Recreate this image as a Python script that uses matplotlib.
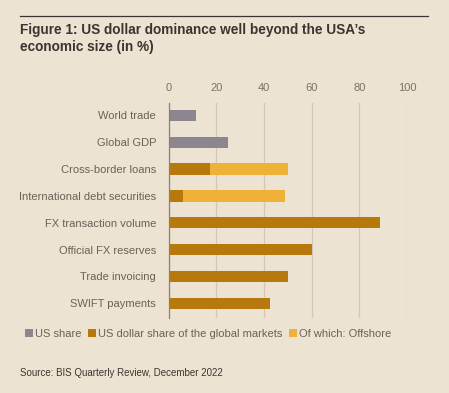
import numpy as np
import matplotlib.pyplot as plt

# Daten
categories = ['World trade', 'Global GDP', 'Cross-border loans', 'International debt securities',
              'FX transaction volume', 'Official FX reserves', 'Trade invoicing', 'SWIFT payments']
us_share = [11.5, 25, 0, 0, 0, 0, 0, 0]
usd_share = [0, 0, 17.5, 6, 88.5, 60, 50, 42.5]
offshore = [0, 0, 32.5, 43, 0, 0, 0, 0]
ticks = [0, 20, 40, 60, 80, 100]

bg = '#ece3d2'
c_us = '#8b8690'
c_usd = '#b7790b'
c_off = '#efb138'
txt = '#6a625a'

plt.rcParams['font.family'] = ['Liberation Sans', 'DejaVu Sans']

fig = plt.figure(figsize=(4.49, 3.93), dpi=100, facecolor=bg)
ax = fig.add_axes([0.3753, 0.1908, 0.5312, 0.5471], facecolor=bg)

y = np.arange(len(categories))
h = 0.42
ax.barh(y, us_share, height=h, color=c_us, label='US share', zorder=3)
ax.barh(y, usd_share, height=h, color=c_usd, label='US dollar share of the global markets', zorder=3)
ax.barh(y, offshore, left=usd_share, height=h, color=c_off, label='Of which: Offshore', zorder=3)

ax.set_xlim(0, 100)
ax.set_ylim(7.55, -0.46)
ax.set_xticks(ticks)
ax.set_yticks(y)
ax.set_yticklabels(categories)
ax.xaxis.tick_top()
ax.tick_params(axis='x', length=0, pad=7, labelsize=8, labelcolor='#7a736b')
ax.tick_params(axis='y', length=0, pad=9, labelsize=8, labelcolor=txt)
ax.grid(axis='x', color='#d2c7b4', linewidth=0.9, zorder=0)
for s in ['top', 'right', 'bottom']:
    ax.spines[s].set_visible(False)
ax.spines['left'].set_color('#8a8178')
ax.spines['left'].set_linewidth(0.9)
ax.spines['left'].set_zorder(4)

# Titel und Linie
fig.add_artist(plt.Line2D([20/449, 428/449], [1-16/393, 1-16/393], color='#3a3530', linewidth=0.9))
fig.text(20/449, 1-23/393, 'Figure 1: US dollar dominance well beyond the USA\u2019s\neconomic size (in %)',
         fontsize=9.8, fontweight='bold', color='#3a3530', va='top', linespacing=1.3)

fig.legend(loc='center left', bbox_to_anchor=(25/449, 1-334/393), ncol=3, frameon=False,
           fontsize=8, handlelength=0.7, handleheight=0.7, handletextpad=0.2, columnspacing=0.6,
           labelcolor=txt, borderaxespad=0, borderpad=0)

fig.text(20/449, 1-373/393, 'Source: BIS Quarterly Review, December 2022', fontsize=7,
         color='#3a3530', va='center')

plt.savefig('out.png', dpi=100, facecolor=bg)
